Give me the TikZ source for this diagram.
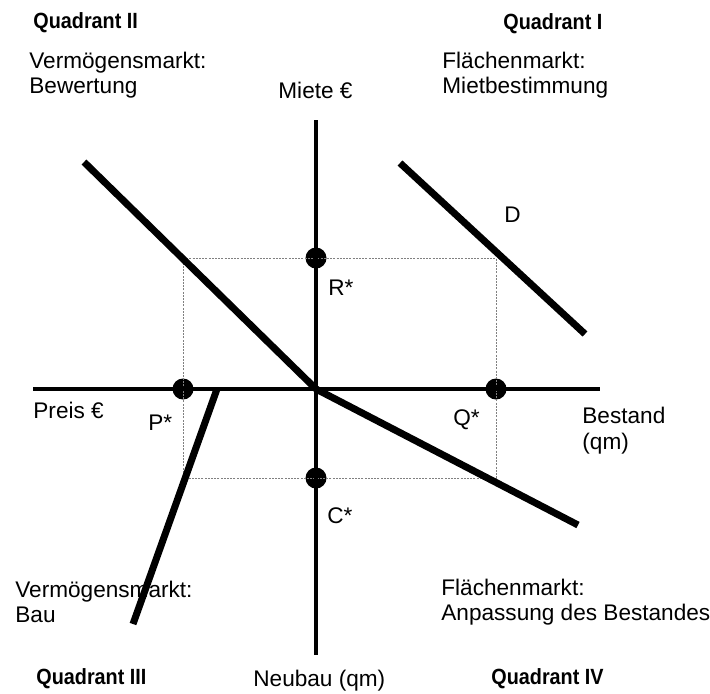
\documentclass[tikz,border=0pt]{standalone}
\usepackage{fontspec}
\setmainfont{Liberation Sans}
\newfontfamily\quadfont[FakeStretch=0.9]{Liberation Sans}
\usetikzlibrary{positioning}

\tikzset{
  axis/.style={line width=1.7pt},
  curve/.style={line width=3.5pt},
  guide/.style={gray, line width=0.5pt, dash pattern=on 1pt off 0.6pt},
  dot/.style={circle, fill=black, inner sep=0pt, minimum size=10.5pt},
  txt/.style={anchor=base west, inner sep=0pt, font=\fontsize{11.3}{13}\selectfont},
  quad/.style={anchor=base west, inner sep=0pt, font=\quadfont\fontsize{11}{13}\selectfont\bfseries},
}

\begin{document}
\begin{tikzpicture}[x=0.5pt, y=-0.5pt]
  \useasboundingbox (0,0) rectangle (710,693);

  % axes
  \coordinate (o) at (316,389);
  \coordinate (xl) at (33,389);
  \coordinate (xr) at (600,389);
  \coordinate (yt) at (316,120);
  \coordinate (yb) at (316,655);

  % equilibrium points
  \node[dot] (rstar) at (316,258) {};
  \node[dot] (qstar) at (496,389) {};
  \node[dot] (cstar) at (316,478) {};
  \node[dot] (pstar) at (183,389) {};

  \draw[guide] (pstar.center |- rstar.center) -- (qstar.center |- rstar.center)
    -- (qstar.center |- cstar.center) -- (pstar.center |- cstar.center) -- cycle;

  \draw[axis] (xl) -- (xr);
  \draw[axis] (yt) -- (yb);

  % the four market lines
  \coordinate (bw1) at (84,162);
  \coordinate (d1) at (400,163);
  \coordinate (d2) at (585,334);
  \coordinate (ab2) at (578,525);
  \coordinate (bau1) at (217,389);
  \coordinate (bau2) at (133,624);
  \draw[curve] (bw1) -- (o);
  \draw[curve] (d1) -- (d2);
  \draw[curve] (o) -- (ab2);
  \draw[curve] (bau1) -- (bau2);

  % labels
  \node[quad] (q2) at (33,28) {Quadrant II};
  \node[quad] (q1) at (503,29) {Quadrant I};
  \node[quad] (q3) at (36,684) {Quadrant III};
  \node[quad] (q4) at (491,684) {Quadrant IV};

  \node[txt] (vm1) at (29,68) {Vermögensmarkt:};
  \node[txt] (bew) at (29,93) {Bewertung};
  \node[txt] (fm1) at (442,68) {Flächenmarkt:};
  \node[txt] (mb) at (442,93) {Mietbestimmung};
  \node[txt] (vm2) at (15,597) {Vermögensmarkt:};
  \node[txt] (bau) at (15,622) {Bau};
  \node[txt] (fm2) at (441,595) {Flächenmarkt:};
  \node[txt] (anp) at (441,620) {Anpassung des Bestandes};

  \node[txt] (miete) at (278,98) {Miete €};
  \node[txt] (preis) at (33,418) {Preis €};
  \node[txt] (best) at (582,423) {Bestand};
  \node[txt] (qm) at (582,449) {(qm)};
  \node[txt] (neubau) at (253,686) {Neubau (qm)};

  \node[txt] (rlab) at (328,295) {R*};
  \node[txt] (plab) at (148,430) {P*};
  \node[txt] (qlab) at (453,425) {Q*};
  \node[txt] (clab) at (327,523) {C*};
  \node[txt] (dlab) at (504,222) {D};
\end{tikzpicture}
\end{document}
